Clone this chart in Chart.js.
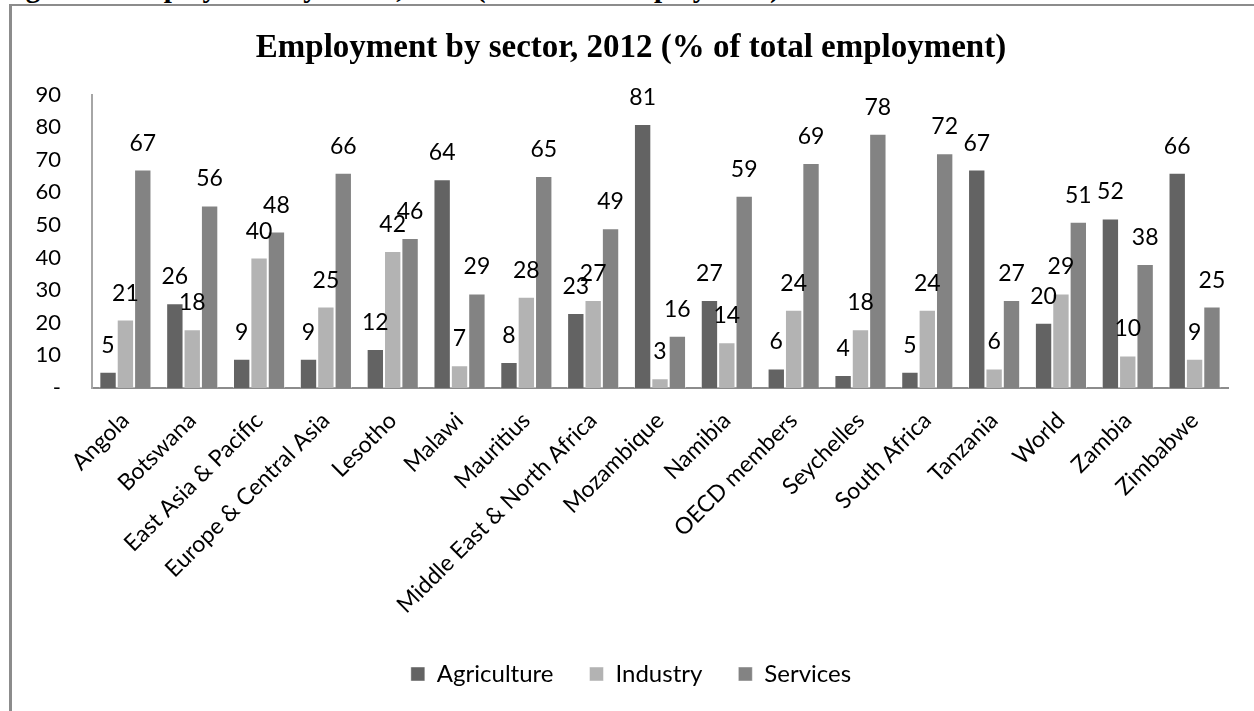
<!DOCTYPE html>
<html lang="en">
  <head>
    <meta charset="UTF-8" />
    <title>Employment by sector</title>
    <script src="https://cdn.jsdelivr.net/npm/chart.js@4.4.0/dist/chart.umd.min.js"></script>
    <style>
      body {
        margin: 0;
        background: #fff;
      }
      .pagina {
        position: relative;
        width: 1254px;
        height: 711px;
        overflow: hidden;
      }
      .leyenda-fig {
        position: absolute;
        left: 0;
        top: -27px;
        font: bold 29px "Liberation Serif", serif;
        line-height: 29px;
        white-space: nowrap;
      }
      .marco {
        position: absolute;
        left: 9px;
        top: 4px;
        right: 0;
        bottom: 0;
        border-top: 2px solid #8c8c8c;
        border-left: 3px solid #8c8c8c;
      }
      .grafico {
        position: absolute;
        left: 0;
        top: 0;
        width: 1254px;
        height: 711px;
      }
    </style>
  </head>

  <body>
    <div class="pagina">
      <div class="leyenda-fig">Figure 1: Employment by sector, 2012 (% of total employment)</div>
      <div class="marco"></div>
      <div class="grafico">
        <canvas id="empleo"></canvas>
      </div>
    </div>
  </body>
  <script>
    var paises = [
      "Angola",
      "Botswana",
      "East Asia & Pacific",
      "Europe & Central Asia",
      "Lesotho",
      "Malawi",
      "Mauritius",
      "Middle East & North Africa",
      "Mozambique",
      "Namibia",
      "OECD members",
      "Seychelles",
      "South Africa",
      "Tanzania",
      "World",
      "Zambia",
      "Zimbabwe",
    ];
    var agricultura = [5, 26, 9, 9, 12, 64, 8, 23, 81, 27, 6, 4, 5, 67, 20, 52, 66];
    var industria = [21, 18, 40, 25, 42, 7, 28, 27, 3, 14, 24, 18, 24, 6, 29, 10, 9];
    var servicios = [67, 56, 48, 66, 46, 29, 65, 49, 16, 59, 69, 78, 72, 27, 51, 38, 25];
    var etiquetasY = ["-", "10", "20", "30", "40", "50", "60", "70", "80", "90"];

    var fuente = "Lato";

    // numeros encima de cada barra
    var etiquetaBarras = {
      id: "etiquetaBarras",
      afterDatasetsDraw(chart) {
        const ctx = chart.ctx;
        ctx.save();
        ctx.font = "23px " + fuente;
        ctx.fillStyle = "#000";
        ctx.textAlign = "center";
        ctx.textBaseline = "alphabetic";
        chart.data.datasets.forEach(function (ds, i) {
          chart.getDatasetMeta(i).data.forEach(function (barra, j) {
            ctx.fillText(String(ds.data[j]), barra.x, barra.y - 19);
          });
        });
        ctx.restore();
      },
    };

    var grafico = new Chart(document.getElementById("empleo"), {
      type: "bar",
      data: {
        labels: paises,
        datasets: [
          {
            label: "Agriculture",
            data: agricultura,
            backgroundColor: "#636363",
            borderColor: "rgba(255,255,255,0.45)",
            borderWidth: 1,
          },
          {
            label: "Industry",
            data: industria,
            backgroundColor: "#b3b3b3",
            borderColor: "rgba(255,255,255,0.45)",
            borderWidth: 1,
          },
          {
            label: "Services",
            data: servicios,
            backgroundColor: "#838383",
            borderColor: "rgba(255,255,255,0.45)",
            borderWidth: 1,
          },
        ],
      },
      options: {
        responsive: true,
        maintainAspectRatio: false,
        animation: false,
        layout: {
          padding: { left: 34, right: 26, top: 0, bottom: 15 },
        },
        datasets: {
          bar: {
            categoryPercentage: 0.78,
            barPercentage: 1,
          },
        },
        scales: {
          x: {
            grid: { display: false, drawTicks: false },
            border: { color: "#8c8c8c", width: 2 },
            ticks: {
              minRotation: 45,
              maxRotation: 45,
              autoSkip: false,
              padding: 19,
              color: "#000",
              font: { family: fuente, size: 23 },
            },
            // las etiquetas giradas no deben empujar el area del grafico
            afterFit: function (escala) {
              escala.paddingLeft = 0;
              escala.paddingRight = 0;
              escala.height = 238;
            },
          },
          y: {
            min: 0,
            max: 90,
            grid: { display: false, drawTicks: false },
            border: { color: "#a6a6a6", width: 2 },
            ticks: {
              stepSize: 10,
              padding: 31,
              color: "#000",
              font: { family: fuente, size: 22 },
              callback: function (valor, i) {
                return etiquetasY[i];
              },
            },
            afterFit: function (escala) {
              escala.width = 58;
            },
          },
        },
        plugins: {
          title: {
            display: true,
            text: "Employment by sector, 2012 (% of total employment)",
            color: "#000",
            font: { family: "Liberation Serif", size: 33, weight: "bold" },
            padding: { top: 29, bottom: 26 },
          },
          legend: {
            position: "bottom",
            labels: {
              boxWidth: 14,
              boxHeight: 14,
              padding: 36,
              color: "#000",
              font: { family: fuente, size: 24 },
            },
          },
          tooltip: { enabled: false },
        },
      },
      plugins: [etiquetaBarras],
    });
  </script>
</html>
